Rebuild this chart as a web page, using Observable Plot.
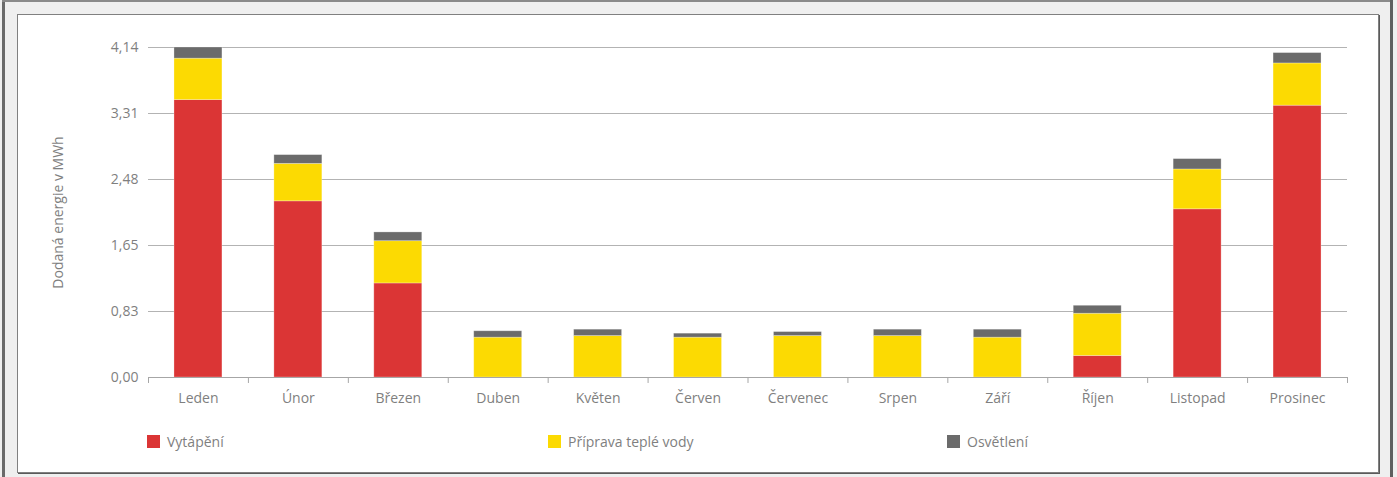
<!DOCTYPE html>
<html>
<head>
<meta charset="utf-8">
<script src="https://cdn.jsdelivr.net/npm/d3@7"></script>
<script src="https://cdn.jsdelivr.net/npm/@observablehq/plot@0.6"></script>
<style>
  html, body { margin: 0; padding: 0; background: #efefef; }
  #wrap { position: relative; width: 1397px; height: 477px; overflow: hidden; background: #efefef; font-family: "Open Sans", sans-serif; }
  .bar-l { position: absolute; left: 2px; top: 0; width: 3px; height: 477px; background: #6a6a6a; }
  .bar-t { position: absolute; left: 2px; top: 0; width: 1391px; height: 2px; background: #8a8a8a; }
  .bar-r { position: absolute; left: 1390px; top: 0; width: 3px; height: 477px; background: #5f5f5f; }
  .panel { position: absolute; left: 17px; top: 14px; width: 1360px; height: 457px; background: #fff;
           border: 1px solid #808080; box-shadow: 1px 1px 0 #5a5a5a; }
  #chart { position: absolute; left: 0; top: 0; }
  .legend { position: absolute; top: 433px; height: 16px; display: flex; align-items: center;
            font-size: 14px; color: #7f7f7f; white-space: nowrap; }
  .legend .sw { width: 13px; height: 13px; margin-right: 7px; }
</style>
</head>
<body>
<div id="wrap">
  <div class="bar-l"></div>
  <div class="bar-t"></div>
  <div class="bar-r"></div>
  <div class="panel"></div>
  <div id="chart"></div>
  <div id="legend"></div>
</div>
<script>
// ---- data ----
const months = ["Leden", "Únor", "Březen", "Duben", "Květen", "Červen", "Červenec", "Srpen", "Září", "Říjen", "Listopad", "Prosinec"];
const seriesNames = ["Vytápění", "Příprava teplé vody", "Osvětlení"];
const heating  = [3.48, 2.21, 1.18, 0, 0, 0, 0, 0, 0, 0.27, 2.11, 3.41];
const hotWater = [0.52, 0.47, 0.53, 0.50, 0.52, 0.50, 0.52, 0.52, 0.50, 0.53, 0.50, 0.53];
const lighting = [0.14, 0.11, 0.11, 0.08, 0.08, 0.05, 0.05, 0.08, 0.10, 0.10, 0.13, 0.13];
const seriesColors = ["#db3535", "#fcda02", "#6b6b6b"];
const yTickValues = [0, 0.828, 1.656, 2.484, 3.312, 4.14];
const yTickLabels = ["0,00", "0,83", "1,65", "2,48", "3,31", "4,14"];
const yTitle = "Dodaná energie v MWh";

// ---- tidy table ----
const values = [heating, hotWater, lighting];
const rows = [];
months.forEach((m, i) => {
  seriesNames.forEach((s, j) => rows.push({month: m, series: s, value: values[j][i]}));
});

const W = 1397, H = 420;
const mL = 148, mR = 50, mT = 47, mB = 43;
const step = (W - mL - mR) / months.length;
const textColor = "#7f7f7f";

const chart = Plot.plot({
  width: W,
  height: H,
  marginLeft: mL,
  marginRight: mR,
  marginTop: mT,
  marginBottom: mB,
  style: {background: "transparent", fontFamily: "Open Sans, sans-serif", fontSize: "14px", color: textColor},
  x: {domain: months, paddingInner: 0.52, paddingOuter: 0.26, round: false, label: null},
  y: {domain: [0, 4.14], label: null},
  color: {domain: seriesNames, range: seriesColors},
  marks: [
    Plot.gridY(yTickValues, {stroke: "#b3b3b3", strokeOpacity: 1, strokeWidth: 1}),
    Plot.barY(rows, {x: "month", y: "value", fill: "series", stroke: "#ffffff", strokeOpacity: 0.35, strokeWidth: 0.8}),
    Plot.ruleY([0], {stroke: "#a6a6a6", strokeWidth: 1}),
    Plot.ruleX(months, {x: d => d, dx: -step / 2, y1: 0, y2: -0.075, stroke: "#a6a6a6"}),
    Plot.ruleX([months[months.length - 1]], {x: d => d, dx: step / 2, y1: 0, y2: -0.075, stroke: "#a6a6a6"}),
    Plot.axisY(yTickValues, {
      tickSize: 0, tickPadding: 10,
      tickFormat: (d, i) => yTickLabels[i],
      fill: textColor, fontSize: 14,
      label: yTitle, labelAnchor: "center", labelArrow: "none", labelOffset: 95
    }),
    Plot.axisX({tickSize: 0, tickPadding: 16, fill: textColor, fontSize: 14, label: null})
  ]
});
document.getElementById("chart").appendChild(chart);

// ---- legend ----
const legendX = [147, 548, 947];
const legend = document.getElementById("legend");
seriesNames.forEach((s, i) => {
  const item = document.createElement("div");
  item.className = "legend";
  item.style.left = legendX[i] + "px";
  const sw = document.createElement("div");
  sw.className = "sw";
  sw.style.background = seriesColors[i];
  const t = document.createElement("span");
  t.textContent = s;
  item.appendChild(sw);
  item.appendChild(t);
  legend.appendChild(item);
});
</script>
</body>
</html>
